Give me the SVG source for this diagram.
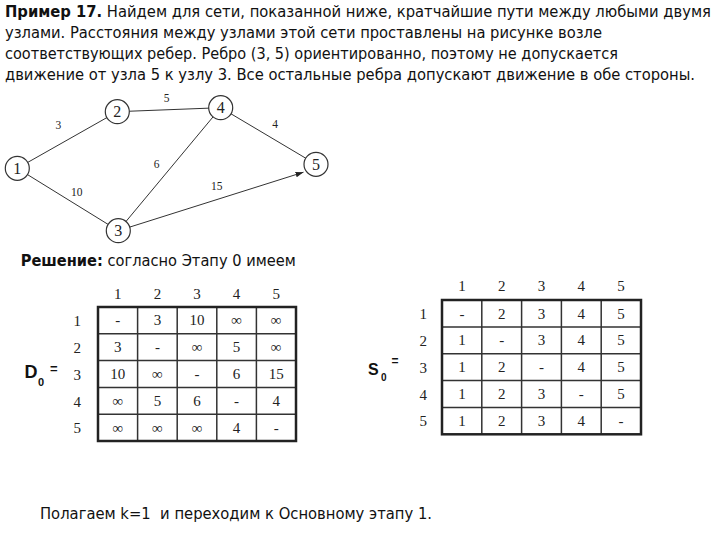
<svg xmlns="http://www.w3.org/2000/svg" width="720" height="540" viewBox="0 0 720 540">
<defs>
<marker id="arr" viewBox="0 0 10 10" refX="10" refY="5" markerWidth="8" markerHeight="8" orient="auto" markerUnits="userSpaceOnUse"><path d="M0,1.5 L10,5 L0,8.5 Z" fill="#222"/></marker>
<style>
.t{font-family:"DejaVu Sans Condensed","DejaVu Sans",sans-serif;font-size:16px;fill:#111}
.b{font-weight:bold}
.s{font-family:"Liberation Serif","Times New Roman",serif;fill:#222}
.nl{font-size:16px;text-anchor:middle}
.el{font-size:11.5px;text-anchor:middle}
.c{font-size:15px;text-anchor:middle}
.edge{stroke:#333;stroke-width:1;fill:none}
.node{fill:#fff;stroke:#333;stroke-width:1.2}
.grid{stroke:#333;stroke-width:1.5;fill:none}
.outer{stroke:#222;stroke-width:2.5;fill:none}
.lab{font-family:"Liberation Sans",Arial,sans-serif;font-weight:bold;fill:#111}
</style>
</defs>
<rect width="720" height="540" fill="#fff"/>
<g id="title">
<text class="t" x="5" y="17" textLength="706" lengthAdjust="spacingAndGlyphs"><tspan class="b">Пример 17.</tspan> Найдем для сети, показанной ниже, кратчайшие пути между любыми двумя</text>
<text class="t" x="5" y="38" textLength="597" lengthAdjust="spacingAndGlyphs">узлами. Расстояния между узлами этой сети проставлены на рисунке возле</text>
<text class="t" x="5" y="59" textLength="613" lengthAdjust="spacingAndGlyphs">соответствующих ребер. Ребро (3, 5) ориентированно, поэтому не допускается</text>
<text class="t" x="5" y="80" textLength="690" lengthAdjust="spacingAndGlyphs">движение от узла 5 к узлу 3. Все остальные ребра допускают движение в обе стороны.</text>
</g>
<g id="connectors">
<line class="edge" x1="17.3" y1="168.3" x2="117.3" y2="111.7"/>
<line class="edge" x1="117.3" y1="111.7" x2="220.7" y2="107.7"/>
<line class="edge" x1="220.7" y1="107.7" x2="316" y2="164.3"/>
<line class="edge" x1="17.3" y1="168.3" x2="118.3" y2="230.7"/>
<line class="edge" x1="118.3" y1="230.7" x2="220.7" y2="107.7"/>
<line class="edge" x1="129.7" y1="227.1" x2="303.5" y2="172.2" marker-end="url(#arr)"/>
<text class="s el" x="166.7" y="101.5">5</text>
<text class="s el" x="58.3" y="129">3</text>
<text class="s el" x="275" y="128.3">4</text>
<text class="s el" x="156.7" y="168.3">6</text>
<text class="s el" x="76.7" y="196.3">10</text>
<text class="s el" x="216.7" y="190">15</text>
</g>
<g id="node1"><circle class="node" cx="17.3" cy="168.3" r="12"/><text class="s nl" x="17.3" y="173.8">1</text></g>
<g id="node2"><circle class="node" cx="117.3" cy="111.7" r="12"/><text class="s nl" x="117.3" y="117.2">2</text></g>
<g id="node3"><circle class="node" cx="118.3" cy="230.7" r="12"/><text class="s nl" x="118.3" y="236.2">3</text></g>
<g id="node4"><circle class="node" cx="220.7" cy="107.7" r="12"/><text class="s nl" x="220.7" y="113.2">4</text></g>
<g id="node5"><circle class="node" cx="316" cy="164.3" r="12"/><text class="s nl" x="316" y="169.8">5</text></g>
<g id="solution">
<text class="t" x="20.7" y="266" style="font-family:'DejaVu Sans',sans-serif;font-size:15px" textLength="275" lengthAdjust="spacingAndGlyphs"><tspan class="b">Решение:</tspan> согласно Этапу 0 имеем</text>
</g>
<g id="D0">
<text class="lab" x="24.5" y="378" font-size="18">D</text>
<text class="lab" x="38" y="386" font-size="11">0</text>
<text class="lab" x="50" y="373" font-size="13">=</text>
<g class="s c">
<text x="117.8" y="299">1</text><text x="157.4" y="299">2</text><text x="197" y="299">3</text><text x="236.6" y="299">4</text><text x="276.2" y="299">5</text>
<text x="77.3" y="326">1</text><text x="77.3" y="353">2</text><text x="77.3" y="379.5">3</text><text x="77.3" y="406.5">4</text><text x="77.3" y="433">5</text>
<text x="117.8" y="325">-</text><text x="157.4" y="325">3</text><text x="197" y="325">10</text><text x="236.6" y="325">∞</text><text x="276.2" y="325">∞</text>
<text x="117.8" y="352">3</text><text x="157.4" y="352">-</text><text x="197" y="352">∞</text><text x="236.6" y="352">5</text><text x="276.2" y="352">∞</text>
<text x="117.8" y="379">10</text><text x="157.4" y="379">∞</text><text x="197" y="379">-</text><text x="236.6" y="379">6</text><text x="276.2" y="379">15</text>
<text x="117.8" y="406">∞</text><text x="157.4" y="406">5</text><text x="197" y="406">6</text><text x="236.6" y="406">-</text><text x="276.2" y="406">4</text>
<text x="117.8" y="432.5">∞</text><text x="157.4" y="432.5">∞</text><text x="197" y="432.5">∞</text><text x="236.6" y="432.5">4</text><text x="276.2" y="432.5">-</text>
</g>
<path class="grid" d="M137.6,307V441M177.2,307V441M216.8,307V441M256.4,307V441M98,333.8H296M98,360.6H296M98,387.4H296M98,414.2H296"/>
<rect class="outer" x="98" y="307" width="198" height="134"/>
</g>
<g id="S0">
<text class="lab" x="368" y="375" font-size="16">S</text>
<text class="lab" x="381" y="381" font-size="10">0</text>
<text class="lab" x="391.5" y="365" font-size="12">=</text>
<g class="s c">
<text x="461.9" y="291">1</text><text x="501.7" y="291">2</text><text x="541.5" y="291">3</text><text x="581.3" y="291">4</text><text x="621.1" y="291">5</text>
<text x="423.3" y="319">1</text><text x="423.3" y="346">2</text><text x="423.3" y="373">3</text><text x="423.3" y="399.5">4</text><text x="423.3" y="426">5</text>
<text x="461.9" y="318.5">-</text><text x="501.7" y="318.5">2</text><text x="541.5" y="318.5">3</text><text x="581.3" y="318.5">4</text><text x="621.1" y="318.5">5</text>
<text x="461.9" y="345">1</text><text x="501.7" y="345">-</text><text x="541.5" y="345">3</text><text x="581.3" y="345">4</text><text x="621.1" y="345">5</text>
<text x="461.9" y="372">1</text><text x="501.7" y="372">2</text><text x="541.5" y="372">-</text><text x="581.3" y="372">4</text><text x="621.1" y="372">5</text>
<text x="461.9" y="399">1</text><text x="501.7" y="399">2</text><text x="541.5" y="399">3</text><text x="581.3" y="399">-</text><text x="621.1" y="399">5</text>
<text x="461.9" y="426">1</text><text x="501.7" y="426">2</text><text x="541.5" y="426">3</text><text x="581.3" y="426">4</text><text x="621.1" y="426">-</text>
</g>
<path class="grid" d="M481.8,300V434.3M521.6,300V434.3M561.4,300V434.3M601.2,300V434.3M442,326.9H641M442,353.7H641M442,380.6H641M442,407.4H641"/>
<rect class="outer" x="442" y="300" width="199" height="134.3"/>
</g>
<g id="footer">
<text class="t" x="40" y="519" style="font-family:'DejaVu Sans',sans-serif;font-size:16.5px" textLength="392" lengthAdjust="spacingAndGlyphs">Полагаем k=1 &#160;и переходим к Основному этапу 1.</text>
</g>
</svg>
